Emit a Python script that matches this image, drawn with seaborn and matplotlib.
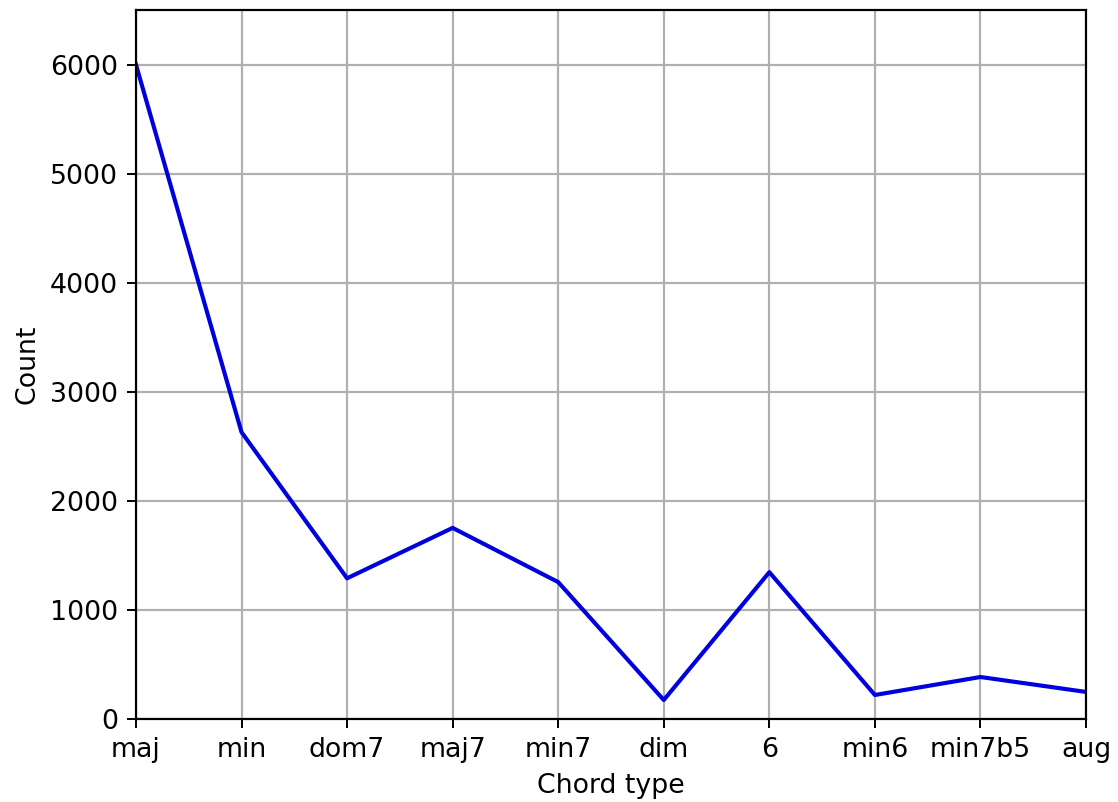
import matplotlib
matplotlib.use('Agg')
import matplotlib.pyplot as plt
import pandas as pd
import seaborn as sns

chord_types = ['maj', 'min', 'dom7', 'maj7', 'min7', 'dim', '6', 'min6', 'min7b5', 'aug']
counts = [6000, 2630, 1290, 1752, 1255, 174, 1346, 220, 385, 248]

df = pd.DataFrame({'Chord type': chord_types, 'Count': counts})

plt.rcParams['font.family'] = ['DejaVu Sans']
plt.rcParams['font.size'] = 11
plt.rcParams['xtick.major.size'] = 3.9
plt.rcParams['ytick.major.size'] = 3.9
plt.rcParams['axes.linewidth'] = 0.9

fig = plt.figure(figsize=(1118 / 175, 802 / 175), dpi=175)
ax = fig.add_axes([0.1216, 0.1035, 0.8498, 0.884])
sns.lineplot(x='Chord type', y='Count', data=df, color='#0000dd', linewidth=1.7, ax=ax, sort=False)
ax.set_xlim(0, len(chord_types) - 1)
ax.set_ylim(0, 6500)
ax.grid(True, color='#b0b0b0', linewidth=0.9)
ax.set_axisbelow(True)
plt.savefig('out.png', dpi=175)
